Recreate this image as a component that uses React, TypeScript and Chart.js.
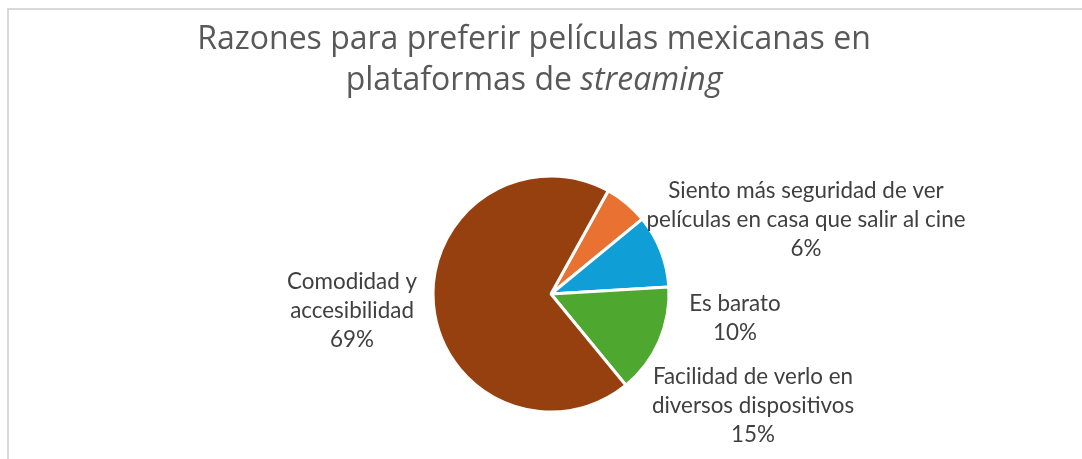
import React, { useEffect, useRef } from "react";
import { Chart, registerables } from "chart.js";

Chart.register(...registerables);

// ---- data ----
const categories = [
  "Siento más seguridad de ver películas en casa que salir al cine",
  "Es barato",
  "Facilidad de verlo en diversos dispositivos",
  "Comodidad y accesibilidad",
];
const categoryLines = [
  ["Siento más seguridad de ver", "películas en casa que salir al cine"],
  ["Es barato"],
  ["Facilidad de verlo en", "diversos dispositivos"],
  ["Comodidad y", "accesibilidad"],
];
const values = [6, 10, 15, 69];
const titleLine1 = "Razones para preferir películas mexicanas en";
const titleLine2Normal = "plataformas de ";
const titleLine2Italic = "streaming";

// ---- styles / layout ----
const colors = ["#E97132", "#0F9ED5", "#4EA72E", "#97400F"];
const TITLE_FONT = "'Open Sans'";
const LABEL_FONT = "Lato";
const TITLE_SIZE = 32;
const LABEL_SIZE = 22.4;
const LABEL_LINE_H = 29;
// label anchor (middle baseline) relative to pie centre, in units of the radius
const labelOffsets = [
  [2.161, -0.565],
  [1.559, 0.265],
  [1.712, 1.006],
  [-1.686, 0.2],
];

const framePlugin = {
  id: "frame",
  beforeDraw(chart: any) {
    const ctx = chart.ctx;
    ctx.save();
    ctx.fillStyle = "#FFFFFF";
    ctx.fillRect(0, 0, chart.width, chart.height);
    ctx.fillStyle = "#D9D9D9";
    ctx.fillRect(7, 8, 2, chart.height - 8);
    ctx.fillRect(7, 8, chart.width - 7, 2);
    ctx.restore();
  },
};

const titlePlugin = {
  id: "mixedTitle",
  afterDraw(chart: any) {
    const ctx = chart.ctx;
    const cx = 534;
    ctx.save();
    ctx.fillStyle = "#595959";
    ctx.textBaseline = "alphabetic";
    ctx.font = `${TITLE_SIZE}px ${TITLE_FONT}`;
    ctx.textAlign = "center";
    ctx.fillText(titleLine1, cx, 49);
    ctx.textAlign = "left";
    const wN = ctx.measureText(titleLine2Normal).width;
    ctx.font = `italic ${TITLE_SIZE}px ${TITLE_FONT}`;
    const wI = ctx.measureText(titleLine2Italic).width;
    const x0 = cx - (wN + wI) / 2;
    ctx.font = `${TITLE_SIZE}px ${TITLE_FONT}`;
    ctx.fillText(titleLine2Normal, x0, 90);
    ctx.font = `italic ${TITLE_SIZE}px ${TITLE_FONT}`;
    ctx.fillText(titleLine2Italic, x0 + wN, 90);
    ctx.restore();
  },
};

const labelPlugin = {
  id: "sliceLabels",
  afterDatasetsDraw(chart: any) {
    const ctx = chart.ctx;
    const meta = chart.getDatasetMeta(0);
    const data = chart.data.datasets[0].data as number[];
    const total = data.reduce((a, b) => a + b, 0);
    ctx.save();
    ctx.fillStyle = "#404040";
    ctx.font = `${LABEL_SIZE}px ${LABEL_FONT}`;
    ctx.textAlign = "center";
    ctx.textBaseline = "alphabetic";
    meta.data.forEach((arc: any, i: number) => {
      const { x, y, outerRadius } = arc.getProps(["x", "y", "outerRadius"], true);
      const lines = [...categoryLines[i], `${Math.round((data[i] / total) * 100)}%`];
      const ax = x + labelOffsets[i][0] * outerRadius;
      const ay = y + labelOffsets[i][1] * outerRadius;
      const n = lines.length;
      lines.forEach((t, k) => {
        ctx.fillText(t, ax, ay + (k - (n - 1) / 2) * LABEL_LINE_H);
      });
    });
    ctx.restore();
  },
};

export default function App() {
  const ref = useRef<HTMLCanvasElement | null>(null);
  useEffect(() => {
    if (!ref.current) return;
    const chart = new Chart(ref.current, {
      type: "pie",
      data: {
        labels: categories,
        datasets: [
          {
            data: values,
            backgroundColor: colors,
            borderColor: "#FFFFFF",
            borderWidth: 3,
            hoverBorderWidth: 3,
            hoverOffset: 0,
          },
        ],
      },
      options: {
        responsive: false,
        animation: false,
        events: [],
        rotation: 29,
        layout: { padding: { left: 431.5, right: 411.5, top: 174.5, bottom: 45.5 } },
        plugins: {
          legend: { display: false },
          title: { display: false },
          tooltip: { enabled: false },
        },
      },
      plugins: [framePlugin, titlePlugin, labelPlugin],
    });
    return () => chart.destroy();
  }, []);
  return (
    <div style={{ position: "fixed", left: 0, top: 0, width: 1082, height: 459, background: "#fff" }}>
      <canvas ref={ref} width={1082} height={459} style={{ display: "block" }} />
    </div>
  );
}
